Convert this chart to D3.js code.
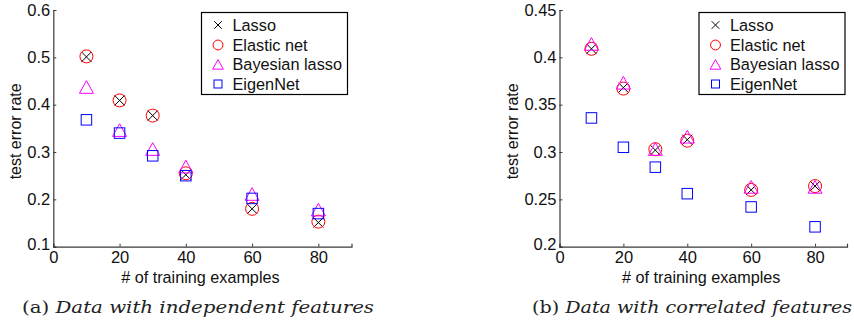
<!DOCTYPE html>
<html>
<head>
<meta charset="utf-8">
<script src="https://cdn.jsdelivr.net/npm/d3@7"></script>
<style>
  body { margin: 0; background: #fff; }
  svg { display: block; }
</style>
</head>
<body>
<svg id="chart"></svg>
<script>
// training set sizes and series
const xValues = [10, 20, 30, 40, 60, 80];
const seriesNames = ["Lasso", "Elastic net", "Bayesian lasso", "EigenNet"];
const xTicks = [0, 20, 40, 60, 80];

// (a) independent features
const indepLasso = [0.501, 0.409, 0.377, 0.252, 0.180, 0.151];
const indepElastic = [0.502, 0.409, 0.377, 0.255, 0.180, 0.153];
const indepBayes = [0.437, 0.346, 0.306, 0.269, 0.211, 0.178];
const indepEigen = [0.368, 0.340, 0.292, 0.250, 0.202, 0.170];
const indepYTicks = [0.1, 0.2, 0.3, 0.4, 0.5, 0.6];

// (b) correlated features
const corrLasso = [0.409, 0.368, 0.302, 0.313, 0.260, 0.264];
const corrElastic = [0.409, 0.367, 0.303, 0.312, 0.260, 0.264];
const corrBayes = [0.414, 0.373, 0.303, 0.316, 0.263, 0.263];
const corrEigen = [0.336, 0.305, 0.284, 0.256, 0.242, 0.221];
const corrYTicks = [0.2, 0.25, 0.3, 0.35, 0.4, 0.45];

const width = 854, height = 321;
const svg = d3.select("#chart").attr("width", width).attr("height", height);

const colors = ["#000", "#ff0000", "#ff00ff", "#0000ff"];
const font = "'Liberation Sans', Arial, sans-serif";

// draw one marker shape centred on 0,0
function drawMarker(g, kind, s, color) {
  if (kind === 0) {
    g.append("path").attr("d", `M${-s},${-s}L${s},${s}M${-s},${s}L${s},${-s}`)
      .attr("stroke", color).attr("stroke-width", 1).attr("fill", "none");
  } else if (kind === 1) {
    g.append("circle").attr("r", s * 1.3)
      .attr("stroke", color).attr("stroke-width", 1).attr("fill", "none");
  } else if (kind === 2) {
    const w = s * 1.4, h = s * 1.3;
    g.append("path").attr("d", `M0,${-h}L${w},${h * 0.95}L${-w},${h * 0.95}Z`)
      .attr("stroke", color).attr("stroke-width", 1).attr("fill", "none");
  } else {
    const q = s * 1.05;
    g.append("rect").attr("x", -q).attr("y", -q).attr("width", 2 * q).attr("height", 2 * q)
      .attr("stroke", color).attr("stroke-width", 1).attr("fill", "none");
  }
}

function drawPanel(opts) {
  const xScale = d3.scaleLinear().domain([0, 90]).range([opts.left, opts.right]);
  const yScale = d3.scaleLinear().domain(opts.yDomain).range([opts.bottom, opts.top]);
  const g = svg.append("g");

  // axes with small inward ticks
  const xAxis = g.append("g")
    .attr("transform", `translate(0,${opts.bottom})`)
    .call(d3.axisBottom(xScale).tickValues(xTicks).tickSize(-3).tickPadding(5).tickFormat(d3.format("d")));
  const yAxis = g.append("g")
    .attr("transform", `translate(${opts.left},0)`)
    .call(d3.axisLeft(yScale).tickValues(opts.yTicks).tickSize(-3).tickPadding(3).tickFormat(opts.fmt));

  [xAxis, yAxis].forEach(ax => {
    ax.select(".domain").attr("stroke", "#3a3a3a").attr("stroke-width", 1.2);
    ax.selectAll(".tick line").attr("stroke", "#3a3a3a");
    ax.selectAll("text").attr("font-family", font).attr("font-size", 16.5).attr("fill", "#111");
  });
  xAxis.selectAll("text").attr("dy", "0.7em");
  yAxis.selectAll(".tick").filter((d, i) => i === 0).select("text").attr("dy", "0.15em");

  // axis labels
  g.append("text")
    .attr("x", xScale(45) - 2).attr("y", opts.bottom + 36)
    .attr("text-anchor", "middle")
    .attr("font-family", font).attr("font-size", 16.2).attr("fill", "#111")
    .text("# of training examples");
  g.append("text")
    .attr("transform", `translate(${opts.yLabelX},${(opts.top + opts.bottom) / 2 + 3}) rotate(-90)`)
    .attr("text-anchor", "middle")
    .attr("font-family", font).attr("font-size", 16).attr("fill", "#111")
    .text("test error rate");

  // markers
  opts.series.forEach((vals, k) => {
    vals.forEach((v, i) => {
      const m = g.append("g").attr("transform", `translate(${xScale(xValues[i])},${yScale(v)})`);
      drawMarker(m, k, 5, colors[k]);
    });
  });

  // legend
  const lg = g.append("g").attr("transform", `translate(${opts.legendX},12.5)`);
  lg.append("rect").attr("width", 146).attr("height", 82)
    .attr("fill", "#fff").attr("stroke", "#000").attr("stroke-width", 1.2);
  const rows = [12.5, 32.5, 52, 71.5];
  seriesNames.forEach((name, k) => {
    const m = lg.append("g").attr("transform", `translate(16.5,${rows[k]})`);
    drawMarker(m, k, 3.8, colors[k]);
    lg.append("text")
      .attr("x", 31).attr("y", rows[k]).attr("dy", "0.36em")
      .attr("font-family", font).attr("font-size", 16.3).attr("fill", "#111")
      .text(name);
  });

  // caption
  const cap = svg.append("text")
    .attr("x", opts.capX).attr("y", 313)
    .attr("font-family", "'DejaVu Serif', serif").attr("font-size", 17.5).attr("fill", "#222")
    .attr("textLength", opts.capW).attr("lengthAdjust", "spacingAndGlyphs");
  cap.append("tspan").text(opts.capLabel + " ");
  cap.append("tspan").attr("font-style", "italic").text(opts.capText);
}

drawPanel({
  left: 53.3, right: 351.5, top: 10, bottom: 246.7,
  yDomain: [0.1, 0.6], yTicks: indepYTicks, fmt: d3.format(".1f"),
  yLabelX: 20.5, legendX: 201.5,
  series: [indepLasso, indepElastic, indepBayes, indepEigen],
  capX: 22, capW: 352, capLabel: "(a)", capText: "Data with independent features"
});

drawPanel({
  left: 559.5, right: 847, top: 10, bottom: 246.7,
  yDomain: [0.2, 0.45], yTicks: corrYTicks, fmt: d => d3.format(".2~f")(d),
  yLabelX: 518, legendX: 699,
  series: [corrLasso, corrElastic, corrBayes, corrEigen],
  capX: 532, capW: 320, capLabel: "(b)", capText: "Data with correlated features"
});
</script>
</body>
</html>
